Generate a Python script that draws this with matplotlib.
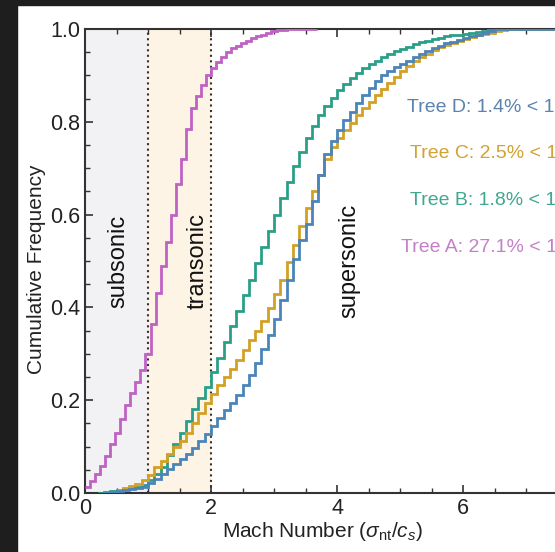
# Distribuciones acumuladas del número de Mach para cuatro árboles
import numpy as np
import matplotlib.pyplot as plt
from matplotlib.patches import Rectangle

plt.rcParams['font.family'] = ['Liberation Sans', 'DejaVu Sans']
plt.rcParams['mathtext.fontset'] = 'custom'
plt.rcParams['mathtext.rm'] = 'Liberation Sans'
plt.rcParams['mathtext.it'] = 'Liberation Sans:italic'

# Datos (valor acumulado al final de cada intervalo)
ancho_a = 0.08
inicio_a = 0.0
arbol_a = [0.012, 0.025, 0.04, 0.058, 0.08, 0.105, 0.13, 0.16, 0.19, 0.215,
           0.24, 0.265, 0.30, 0.365, 0.43, 0.49, 0.54, 0.60, 0.665, 0.72,
           0.785, 0.83, 0.855, 0.88, 0.90, 0.915, 0.928, 0.94, 0.95, 0.958,
           0.964, 0.97, 0.975, 0.98, 0.984, 0.988, 0.992, 0.995, 0.997, 0.998,
           0.999, 1.0, 1.0, 1.0, 1.0, 1.0]

ancho = 0.1
inicio_b = 0.2
arbol_b = [0.001, 0.002, 0.004, 0.006, 0.008, 0.011, 0.014, 0.018,
           0.028, 0.042, 0.057, 0.082, 0.106, 0.13, 0.155, 0.18, 0.205, 0.229,
           0.26, 0.292, 0.325, 0.36, 0.393, 0.426, 0.46, 0.495, 0.53, 0.565,
           0.60, 0.635, 0.67, 0.705, 0.735, 0.765, 0.792, 0.815, 0.835, 0.852,
           0.868, 0.882, 0.894, 0.905, 0.915, 0.924, 0.932, 0.939, 0.946, 0.952,
           0.957, 0.962, 0.967, 0.971, 0.975, 0.978, 0.981, 0.984, 0.986, 0.988,
           0.99, 0.992, 0.994, 0.996, 0.998, 1.0, 1.0, 1.0, 1.0, 1.0,
           1.0, 1.0, 1.0, 1.0, 1.0, 1.0]

inicio_c = 0.5
arbol_c = [0.006, 0.01, 0.015, 0.02, 0.027,
           0.038, 0.055, 0.07, 0.085, 0.099,
           0.113, 0.13, 0.15, 0.172, 0.195,
           0.213, 0.232, 0.25, 0.268, 0.287,
           0.308, 0.33, 0.35, 0.37, 0.398,
           0.428, 0.46, 0.497, 0.535, 0.575,
           0.615, 0.65, 0.685, 0.72, 0.745,
           0.765, 0.782, 0.798, 0.814, 0.829,
           0.843, 0.857, 0.871, 0.884, 0.897,
           0.909, 0.92, 0.93, 0.939, 0.947,
           0.954, 0.961, 0.966, 0.97, 0.974,
           0.978, 0.982, 0.986, 0.989, 0.992,
           0.995, 0.997, 0.999, 1.0, 1.0,
           1.0, 1.0, 1.0, 1.0, 1.0, 1.0]

inicio_d = 0.3
arbol_d = [0.001, 0.002, 0.004, 0.006, 0.008, 0.011, 0.014,
           0.021, 0.03, 0.04, 0.051, 0.062,
           0.073, 0.085, 0.097, 0.112, 0.128,
           0.145, 0.162, 0.179, 0.195, 0.212,
           0.232, 0.255, 0.28, 0.31, 0.34,
           0.375, 0.415, 0.46, 0.505, 0.545,
           0.58, 0.63, 0.685, 0.73, 0.758,
           0.782, 0.804, 0.822, 0.84, 0.857,
           0.873, 0.887, 0.90, 0.91, 0.918,
           0.925, 0.932, 0.94, 0.947, 0.953,
           0.959, 0.964, 0.969, 0.973, 0.977,
           0.981, 0.984, 0.988, 0.992, 0.996,
           1.0, 1.0, 1.0, 1.0, 1.0, 1.0, 1.0, 1.0, 1.0, 1.0, 1.0]

etiquetas = ['Tree D: 1.4% < 1', 'Tree C: 2.5% < 1', 'Tree B: 1.8% < 1', 'Tree A: 27.1% < 1']
colores_linea = {'A': '#c061c4', 'B': '#2a9f88', 'C': '#d3a026', 'D': '#4a84b8'}
colores_texto = ['#5b83ad', '#d2a232', '#3ea890', '#c57fc7']

# Creación de la figura
fig = plt.figure(figsize=(5.55, 5.52), dpi=100)
ax = fig.add_axes([85/555, 59/552, 504/555, 464/552])

# Regiones subsónica y transónica
ax.axvspan(0, 1, color='#f2f2f4', zorder=0, lw=0)
ax.axvspan(1, 2, color='#fdf4e5', zorder=0, lw=0)
ax.axvline(1, color='#333333', ls=':', lw=1.5, zorder=1)
ax.axvline(2, color='#333333', ls=':', lw=1.5, zorder=1)

series = [('A', inicio_a, ancho_a, arbol_a), ('B', inicio_b, ancho, arbol_b),
          ('C', inicio_c, ancho, arbol_c), ('D', inicio_d, ancho, arbol_d)]
for nombre, ini, w, vals in series:
    bordes = ini + w * np.arange(len(vals) + 1)
    ax.stairs(vals, bordes, baseline=None, color=colores_linea[nombre], lw=2.0, zorder=3)

# Textos de las regiones
ax.text(0.53, 0.5, 'subsonic', rotation=90, ha='center', va='center', fontsize=17, color='#111111')
ax.text(1.79, 0.5, 'transonic', rotation=90, ha='center', va='center', fontsize=17, color='#111111')
ax.text(4.2, 0.5, 'supersonic', rotation=90, ha='center', va='center', fontsize=17, color='#111111')

# Textos de porcentajes
pos_y = [0.821, 0.722, 0.621, 0.519]
pos_x = [5.11, 5.16, 5.16, 5.02]
for t, c, xx, yy in zip(etiquetas, colores_texto, pos_x, pos_y):
    ax.text(xx, yy, t, color=c, fontsize=14, ha='left', va='baseline')

# Ejes
ax.set_xlim(0, 8)
ax.set_ylim(0, 1)
ax.set_xticks([0, 2, 4, 6])
ax.set_xticks(np.arange(0, 8.01, 0.5), minor=True)
ax.set_yticks([0, 0.2, 0.4, 0.6, 0.8, 1.0])
ax.set_yticks(np.arange(0, 1.001, 0.05), minor=True)
ax.set_yticklabels(['0.0', '0.2', '0.4', '0.6', '0.8', '1.0'])
ax.tick_params(which='both', direction='in', top=True, right=True, colors='#333333',
               labelcolor='#222222', labelsize=15.5)
ax.tick_params(which='major', length=6, width=1.2)
ax.tick_params(which='minor', length=3.5, width=1.0)
for s in ax.spines.values():
    s.set_color('#333333')
    s.set_linewidth(1.5)

ax.set_xlabel(r'Mach Number ($\sigma_{\rm nt}/c_s$)', fontsize=15, color='#222222')
ax.xaxis.set_label_coords((322 - 85) / 504, -0.058)
ax.set_ylabel('Cumulative Frequency', fontsize=15, color='#222222')
ax.yaxis.set_label_coords(-0.077, 0.483)

# Bordes oscuros de la captura
fig.patches.append(Rectangle((0, 0), 17/555, 1, transform=fig.transFigure, color='#1e1e1e', zorder=10))
fig.patches.append(Rectangle((0, 1 - 5/552), 1, 5/552, transform=fig.transFigure, color='#1e1e1e', zorder=10))

# Guardar en formato PNG
fig.savefig('out.png', dpi=100)
plt.close(fig)
